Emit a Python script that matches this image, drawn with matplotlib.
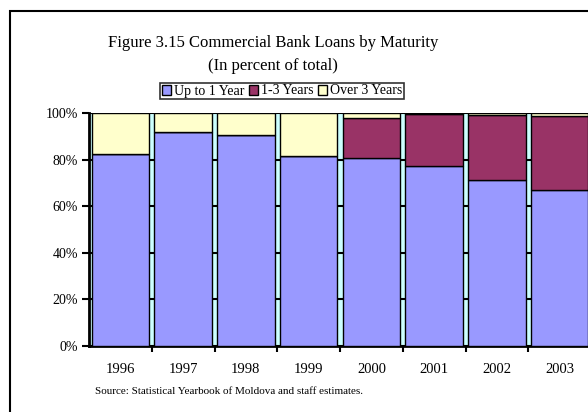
import numpy as np
import matplotlib
matplotlib.use('Agg')
import matplotlib.pyplot as plt
import matplotlib.patches as patches

plt.rcParams['font.family'] = ['Liberation Serif', 'DejaVu Serif']

# Data (percent of total)
years = ['1996', '1997', '1998', '1999', '2000', '2001', '2002', '2003']
up_to_1 = [82.4, 91.7, 90.4, 81.5, 80.5, 77.4, 71.2, 67.0]
one_to_3 = [0.0, 0.0, 0.0, 0.0, 17.4, 22.2, 27.8, 31.8]
over_3 = [17.6, 8.3, 9.6, 18.5, 2.1, 0.4, 1.0, 1.2]

W, H = 588, 412
fig = plt.figure(figsize=(W / 100, H / 100), dpi=100)

# Outer frame (runs off the right and bottom edges in the reference)
fig.add_artist(patches.Rectangle((10 / W, -0.1), 2, 1 - 11 / H + 0.1,
                                 transform=fig.transFigure, fill=False,
                                 edgecolor='black', linewidth=1.5))

# Plot area: x from 89px to ~591px, y from 113px (100%) to 346px (0%)
ax = fig.add_axes([89 / W, (H - 346) / H, (591 - 89) / W, (346 - 113) / H])
ax.set_facecolor('#CCFFFF')

x = np.arange(len(years))
bw = 0.92
a = np.array(up_to_1)
b = np.array(one_to_3)
c = np.array(over_3)
ax.bar(x, a, bw, color='#9999FF', edgecolor='black', linewidth=1, label='Up to 1 Year', zorder=3)
ax.bar(x, b, bw, bottom=a, color='#993366', edgecolor='black', linewidth=1, label='1-3 Years', zorder=3)
ax.bar(x, c, bw, bottom=a + b, color='#FFFFCC', edgecolor='black', linewidth=1, label='Over 3 Years', zorder=3)

ax.set_xlim(-0.5, len(years) - 0.5)
ax.set_ylim(0, 100)
ax.set_yticks(np.arange(0, 101, 20))
ax.set_yticklabels([f'{v}%' for v in range(0, 101, 20)], fontsize=10)
ax.yaxis.grid(True, color='black', linewidth=1.5, zorder=0)
ax.set_axisbelow(True)

ax.set_xticks(x)
ax.set_xticklabels(years, fontsize=10.5)
ax.set_xticks(x[:-1] + 0.5, minor=True)
ax.tick_params(axis='x', which='major', length=0, pad=12)
ax.tick_params(axis='x', which='minor', length=4, width=1.5, direction='out')
ax.tick_params(axis='y', length=5, width=1.5, direction='out', pad=3)

for s in ['top', 'right']:
    ax.spines[s].set_visible(False)
for s in ['left', 'bottom']:
    ax.spines[s].set_linewidth(2)

fig.text(273 / W, 1 - 43 / H, 'Figure 3.15 Commercial Bank Loans by Maturity',
         ha='center', va='center', fontsize=12)
fig.text(273 / W, 1 - 66 / H, '(In percent of total)',
         ha='center', va='center', fontsize=12)

leg = fig.legend(loc='center', bbox_to_anchor=(282 / W, 1 - 91 / H), ncol=3,
                 fontsize=10, frameon=True, fancybox=False, edgecolor='black',
                 handlelength=0.7, handleheight=0.7, handletextpad=0.2,
                 columnspacing=0.3, borderpad=0.1, borderaxespad=0)
leg.get_frame().set_linewidth(1.2)

fig.text(95 / W, 1 - 392 / H, 'Source: Statistical Yearbook of Moldova and staff estimates.',
         ha='left', va='center', fontsize=8)

fig.savefig('out.png', dpi=100)
